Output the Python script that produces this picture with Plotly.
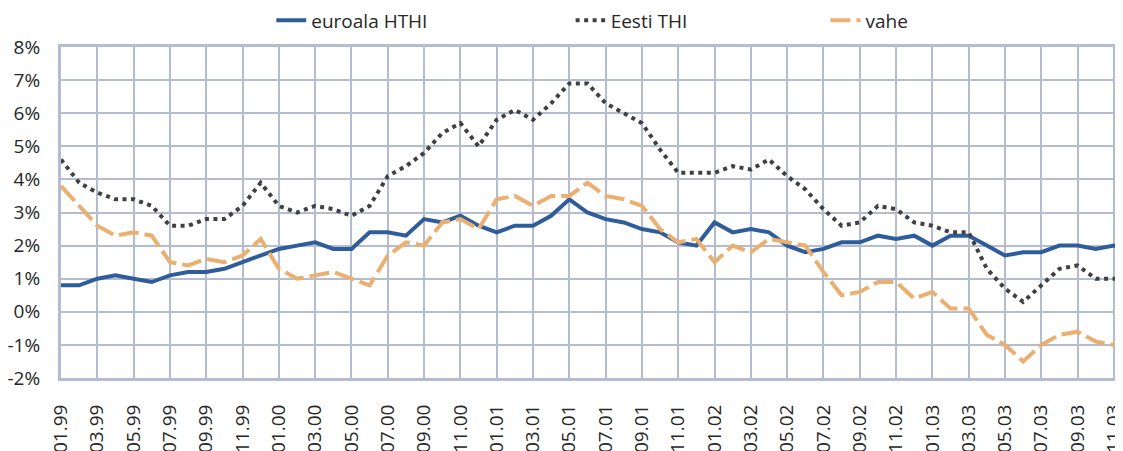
import plotly.graph_objects as go

months = [f"{m:02d}.{y:02d}" for y in (99, 0, 1, 2, 3) for m in range(1, 13)]

euro_hthi = [0.8, 0.8, 1.0, 1.1, 1.0, 0.9, 1.1, 1.2, 1.2, 1.3,
             1.5, 1.7, 1.9, 2.0, 2.1, 1.9, 1.9, 2.4, 2.4, 2.3,
             2.8, 2.7, 2.9, 2.6, 2.4, 2.6, 2.6, 2.9, 3.4, 3.0,
             2.8, 2.7, 2.5, 2.4, 2.1, 2.0, 2.7, 2.4, 2.5, 2.4,
             2.0, 1.8, 1.9, 2.1, 2.1, 2.3, 2.2, 2.3, 2.0, 2.3,
             2.3, 2.0, 1.7, 1.8, 1.8, 2.0, 2.0, 1.9, 2.0, 1.8]

eesti_thi = [4.6, 3.9, 3.6, 3.4, 3.4, 3.2, 2.6, 2.6, 2.8, 2.8,
             3.2, 3.9, 3.2, 3.0, 3.2, 3.1, 2.9, 3.2, 4.1, 4.4,
             4.8, 5.4, 5.7, 5.0, 5.8, 6.1, 5.8, 6.3, 6.9, 6.9,
             6.3, 6.0, 5.7, 4.9, 4.2, 4.2, 4.2, 4.4, 4.3, 4.6,
             4.1, 3.7, 3.1, 2.6, 2.7, 3.2, 3.1, 2.7, 2.6, 2.4,
             2.4, 1.3, 0.7, 0.3, 0.8, 1.3, 1.4, 1.0, 1.0, 1.0]

vahe = [3.8, 3.2, 2.6, 2.3, 2.4, 2.3, 1.5, 1.4, 1.6, 1.5,
        1.7, 2.2, 1.3, 1.0, 1.1, 1.2, 1.0, 0.8, 1.7, 2.1,
        2.0, 2.7, 2.8, 2.5, 3.4, 3.5, 3.2, 3.5, 3.5, 3.9,
        3.5, 3.4, 3.2, 2.5, 2.1, 2.2, 1.5, 2.0, 1.8, 2.2,
        2.1, 2.0, 1.2, 0.5, 0.6, 0.9, 0.9, 0.4, 0.6, 0.1,
        0.1, -0.7, -1.0, -1.5, -1.0, -0.7, -0.6, -0.9, -1.0, -0.8]

y_ticks = list(range(-2, 9))
x_ticks = months[::2]

NB = "\u00a0"
FONT = "Open Sans"
GRID = "#B5BCD0"

fig = go.Figure()
fig.add_trace(go.Scatter(x=months, y=euro_hthi, mode="lines",
                         name="euroala HTHI" + NB * 28,
                         line=dict(color="#2F5D9B", width=4)))
fig.add_trace(go.Scatter(x=months, y=eesti_thi, mode="lines",
                         name="Eesti THI" + NB * 27,
                         line=dict(color="#404040", width=4, dash="4px,4.5px")))
fig.add_trace(go.Scatter(x=months, y=vahe, mode="lines",
                         name="vahe",
                         line=dict(color="#E9B071", width=4, dash="20px,6px")))

# the page body adds an 8px offset; margins compensate for it
fig.update_layout(
    width=1123, height=451,
    margin=dict(l=53, r=8, t=39, b=81, autoexpand=False),
    paper_bgcolor="white", plot_bgcolor="white",
    font=dict(family=FONT, size=19, color="#262626"),
    showlegend=True,
    legend=dict(orientation="h", x=0.198, xanchor="left", y=1.08, yanchor="middle",
                font=dict(size=19), bgcolor="rgba(0,0,0,0)", traceorder="normal"),
)
fig.update_xaxes(
    type="category", categoryorder="array", categoryarray=months,
    range=[0, 58.5], automargin=False,
    tickmode="array", tickvals=x_ticks, ticktext=x_ticks,
    tickangle=-90, ticklabelstandoff=16,
    showgrid=True, gridcolor=GRID, gridwidth=2,
    showline=True, linecolor=GRID, linewidth=3, mirror=True,
    zeroline=False, ticks="",
)
fig.update_yaxes(
    range=[-2, 8], tickmode="array", tickvals=y_ticks, automargin=False,
    ticktext=[f"{v}%" for v in y_ticks],
    ticklabelstandoff=14,
    showgrid=True, gridcolor=GRID, gridwidth=2,
    showline=True, linecolor=GRID, linewidth=3,
    zeroline=False, ticks="",
)

fig.write_html("out.html")
